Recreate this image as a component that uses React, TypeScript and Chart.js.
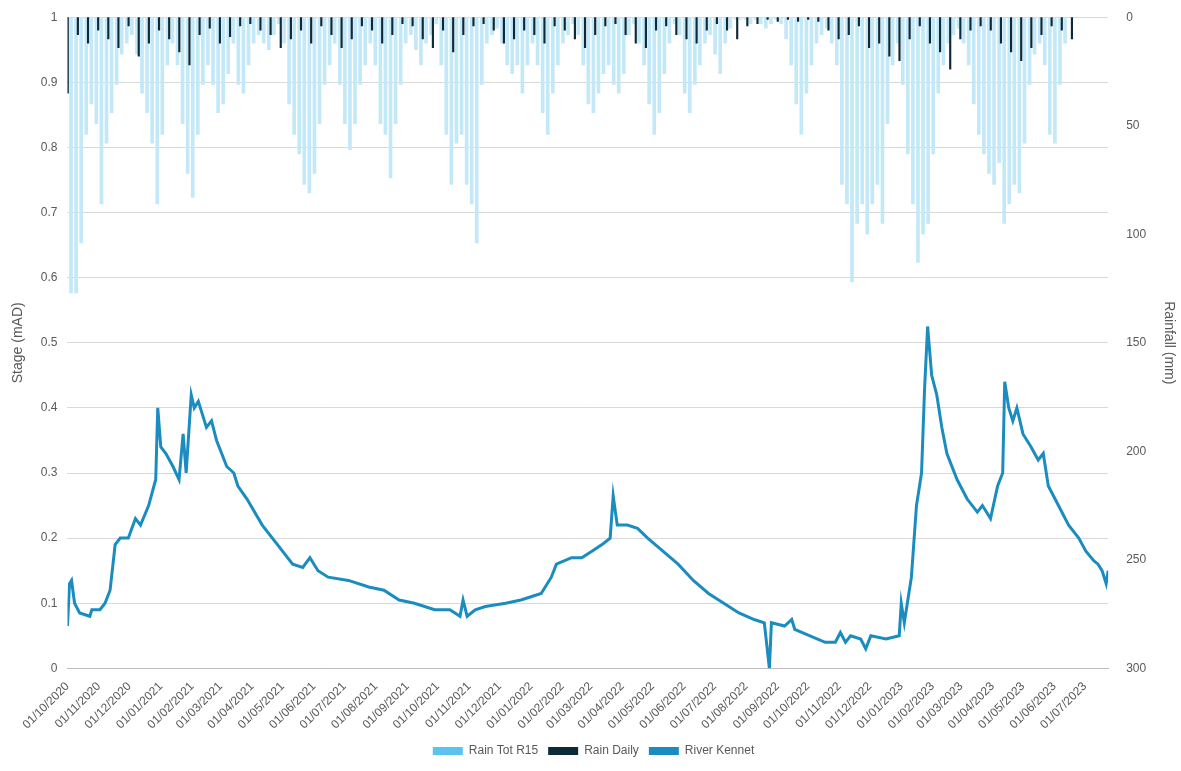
import Chart from 'chart.js/auto';
import { useEffect, useRef } from 'react';

// River stage (mAD): day offset from 01/10/2020 and value
const riverDays = [0, 2, 4, 7, 12, 22, 24, 32, 37, 42, 47, 52, 60, 67, 72, 80, 87, 89, 92, 97, 104, 110, 114, 117, 122, 125, 129, 137, 142, 147, 157, 164, 168, 177, 192, 207, 222, 232, 239, 247, 257, 277, 297, 312, 327, 342, 362, 377, 387, 390, 394, 402, 412, 432, 447, 457, 467, 477, 482, 497, 507, 517, 527, 535, 538, 542, 552, 562, 572, 587, 602, 617, 632, 647, 662, 677, 687, 692, 694, 707, 714, 717, 732, 747, 757, 762, 767, 772, 782, 787, 792, 807, 820, 822, 825, 832, 837, 842, 845, 848, 852, 857, 862, 867, 877, 887, 897, 902, 910, 917, 922, 924, 928, 932, 936, 942, 950, 957, 962, 967, 977, 987, 997, 1004, 1012, 1016, 1020, 1024, 1026];
const riverStage = [0.065, 0.13, 0.135, 0.1, 0.085, 0.08, 0.09, 0.09, 0.1, 0.12, 0.19, 0.2, 0.2, 0.23, 0.22, 0.25, 0.29, 0.4, 0.34, 0.33, 0.31, 0.29, 0.36, 0.3, 0.42, 0.4, 0.41, 0.37, 0.38, 0.35, 0.31, 0.3, 0.28, 0.26, 0.22, 0.19, 0.16, 0.155, 0.17, 0.15, 0.14, 0.135, 0.125, 0.12, 0.105, 0.1, 0.09, 0.09, 0.08, 0.105, 0.08, 0.09, 0.095, 0.1, 0.105, 0.11, 0.115, 0.14, 0.16, 0.17, 0.17, 0.18, 0.19, 0.2, 0.265, 0.22, 0.22, 0.215, 0.2, 0.18, 0.16, 0.135, 0.115, 0.1, 0.085, 0.075, 0.07, 0.0, 0.07, 0.065, 0.075, 0.06, 0.05, 0.04, 0.04, 0.055, 0.04, 0.05, 0.045, 0.03, 0.05, 0.045, 0.05, 0.1, 0.07, 0.14, 0.25, 0.3, 0.43, 0.525, 0.45, 0.42, 0.37, 0.33, 0.29, 0.26, 0.24, 0.25, 0.23, 0.28, 0.3, 0.44, 0.4, 0.38, 0.4, 0.36, 0.34, 0.32, 0.33, 0.28, 0.25, 0.22, 0.2, 0.18, 0.165, 0.16, 0.15, 0.13, 0.15];

// Rain Tot R15 (mm), one value every 5 days from day 2
const r15Start = 2;
const r15Step = 5;
const rainR15 = [127, 127, 104, 54, 40, 49, 86, 58, 44, 31, 17, 12, 8, 17, 35, 44, 58, 86, 54, 22, 12, 22, 49, 72, 83, 54, 31, 22, 31, 44, 40, 26, 12, 31, 35, 22, 12, 8, 12, 15, 8, 3, 12, 40, 54, 63, 77, 81, 72, 49, 31, 22, 12, 31, 49, 61, 49, 31, 22, 12, 22, 49, 54, 74, 49, 31, 12, 8, 15, 22, 12, 8, 3, 22, 54, 77, 58, 54, 77, 86, 104, 31, 12, 8, 5, 12, 22, 26, 22, 35, 22, 12, 22, 44, 54, 35, 22, 12, 8, 3, 8, 22, 40, 44, 35, 26, 22, 31, 35, 26, 8, 3, 12, 22, 40, 54, 44, 26, 12, 3, 8, 35, 44, 31, 22, 12, 8, 17, 26, 12, 5, 1, 1, 1, 3, 1, 3, 5, 3, 1, 3, 10, 22, 40, 54, 35, 22, 12, 8, 5, 12, 22, 77, 86, 122, 95, 86, 100, 86, 77, 95, 49, 22, 12, 31, 63, 86, 113, 100, 95, 63, 35, 22, 12, 8, 5, 12, 22, 40, 54, 63, 72, 77, 67, 95, 86, 77, 81, 58, 31, 17, 12, 22, 54, 58, 31, 12];

// Rain Daily (mm), one value every 10 days from day 1
const dailyStart = 1;
const dailyStep = 10;
const rainDaily = [35, 8, 12, 6, 10, 14, 4, 18, 12, 6, 10, 16, 22, 8, 5, 12, 9, 4, 3, 6, 8, 14, 10, 6, 12, 4, 8, 14, 10, 4, 6, 12, 8, 3, 4, 10, 14, 6, 16, 8, 4, 3, 6, 12, 10, 6, 8, 12, 4, 6, 10, 14, 8, 4, 3, 8, 12, 14, 6, 4, 8, 10, 12, 6, 3, 6, 10, 4, 3, 1, 2, 1, 2, 1, 2, 6, 10, 8, 4, 14, 12, 18, 20, 10, 4, 12, 16, 24, 10, 6, 4, 6, 12, 16, 20, 14, 8, 4, 6, 10];

const startDate = new Date(2020, 9, 1);
const endDay = 1026;

function dayOf(d: Date) {
  return Math.round((d.getTime() - startDate.getTime()) / 86400000);
}

const monthTicks: number[] = [];
for (let m = 0; m < 35; m++) {
  const d = new Date(2020, 9 + m, 1);
  if (dayOf(d) <= endDay) monthTicks.push(dayOf(d));
}

function fmt(day: number) {
  const d = new Date(startDate.getTime() + day * 86400000 + 3600000 * 12);
  const dd = String(d.getDate()).padStart(2, '0');
  const mm = String(d.getMonth() + 1).padStart(2, '0');
  return `${dd}/${mm}/${d.getFullYear()}`;
}

export default function App() {
  const canvasRef = useRef<HTMLCanvasElement>(null);

  useEffect(() => {
    if (!canvasRef.current) return;
    document.body.style.margin = '0';
    const tickFont = { family: 'Liberation Sans', size: 12 };
    const grey = '#595959';

    const chart = new Chart(canvasRef.current, {
      type: 'bar',
      data: {
        datasets: [
          {
            type: 'bar',
            label: 'Rain Tot R15',
            data: rainR15.map((v, i) => ({ x: r15Start + i * r15Step, y: v })),
            backgroundColor: '#c3e8f8',
            borderWidth: 0,
            barThickness: 3,
            yAxisID: 'y2',
            order: 3,
          },
          {
            type: 'bar',
            label: 'Rain Daily',
            data: rainDaily.map((v, i) => ({ x: dailyStart + i * dailyStep, y: v })),
            backgroundColor: '#0e2a38',
            borderWidth: 0,
            barThickness: 1.5,
            yAxisID: 'y2',
            order: 2,
          },
          {
            type: 'line',
            label: 'River Kennet',
            data: riverDays.map((d, i) => ({ x: d, y: riverStage[i] })),
            borderColor: '#1a8cc0',
            backgroundColor: '#1a8cc0',
            borderWidth: 3,
            pointRadius: 0,
            tension: 0,
            yAxisID: 'y',
            order: 1,
          },
        ] as any,
      },
      options: {
        animation: false,
        maintainAspectRatio: false,
        layout: { padding: { top: 2, right: 0, left: 6, bottom: 4 } },
        plugins: {
          legend: {
            position: 'bottom',
            labels: {
              color: grey,
              font: tickFont,
              boxWidth: 30,
              boxHeight: 8,
              generateLabels: () => [
                { text: 'Rain Tot R15', fillStyle: '#5bc3ef', strokeStyle: '#5bc3ef', lineWidth: 0, fontColor: grey },
                { text: 'Rain Daily', fillStyle: '#0e2a38', strokeStyle: '#0e2a38', lineWidth: 0, fontColor: grey },
                { text: 'River Kennet', fillStyle: '#1a8cc0', strokeStyle: '#1a8cc0', lineWidth: 0, fontColor: grey },
              ] as any,
            },
          },
          tooltip: { enabled: false },
        },
        scales: {
          x: {
            type: 'linear',
            offset: false,
            min: 0,
            max: endDay,
            afterBuildTicks: (axis: any) => {
              axis.ticks = monthTicks.map((v) => ({ value: v }));
            },
            ticks: {
              color: grey,
              font: tickFont,
              maxRotation: 45,
              minRotation: 45,
              autoSkip: false,
              callback: (v: any) => fmt(Number(v)),
            },
            grid: { display: false },
            border: { color: '#bfbfbf' },
          },
          y: {
            position: 'left',
            min: 0,
            max: 1,
            ticks: { stepSize: 0.1, color: grey, font: tickFont, padding: 10, callback: (v: any) => String(Math.round(Number(v) * 10) / 10) },
            title: { display: true, text: 'Stage (mAD)', color: grey, font: { family: 'Liberation Sans', size: 14 } },
            grid: { color: '#d9d9d9', drawTicks: false },
            border: { display: false },
          },
          y2: {
            position: 'right',
            reverse: true,
            min: 0,
            max: 300,
            ticks: { stepSize: 50, color: grey, font: tickFont, padding: 10 },
            title: { display: true, text: 'Rainfall (mm)', color: grey, font: { family: 'Liberation Sans', size: 14 } },
            grid: { display: false },
            border: { display: false },
          },
        },
      },
    });

    return () => chart.destroy();
  }, []);

  return (
    <div style={{ width: 1181, height: 771, position: 'relative' }}>
      <canvas ref={canvasRef}></canvas>
    </div>
  );
}
